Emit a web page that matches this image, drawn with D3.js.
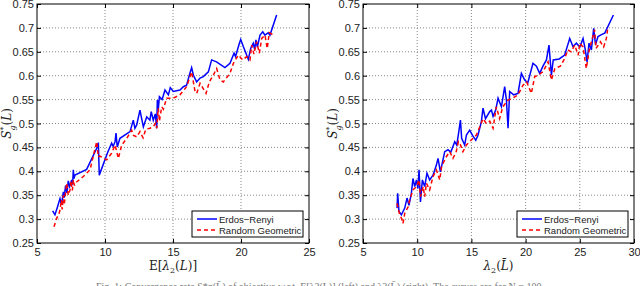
<!DOCTYPE html>
<meta charset="utf-8">
<style>
body { margin: 0; background: #fff; }
.tick text { font-family: "Liberation Sans", Arial, sans-serif; font-size: 11px; fill: #222; }
.grid line { stroke: #888; stroke-dasharray: 1,2; }
.lbl { font-family: "DejaVu Serif", "Liberation Serif", serif; font-size: 12px; fill: #222; }
.leg { font-family: "Liberation Sans", Arial, sans-serif; font-size: 9.5px; fill: #222; }
</style>
<body>
<script src="https://cdn.jsdelivr.net/npm/d3@7"></script>
<script>

// ---- data: [x, S*g] ----
var yTicks = [0.25, 0.3, 0.35, 0.4, 0.45, 0.5, 0.55, 0.6, 0.65, 0.7, 0.75];
var xTicksLeft = [5, 10, 15, 20, 25];
var xTicksRight = [5, 10, 15, 20, 25, 30];
var legendNames = ["Erdos\u2212Renyi", "Random Geometric"];

var erLeft = [[6.15,0.317],[6.32,0.309],[6.5,0.325],[6.69,0.343],[6.8,0.33],[6.94,0.357],[7.0,0.345],[7.1,0.37],[7.2,0.355],[7.3,0.38],[7.4,0.368],[7.55,0.382],[7.62,0.372],[7.67,0.403],[7.72,0.385],[7.79,0.392],[8.65,0.404],[9.39,0.448],[9.51,0.46],[9.58,0.392],[10.2,0.44],[10.49,0.459],[10.6,0.452],[10.74,0.462],[10.81,0.48],[10.9,0.451],[11.1,0.469],[11.84,0.483],[12.08,0.507],[12.2,0.49],[12.33,0.497],[12.57,0.528],[12.82,0.493],[13.07,0.514],[13.3,0.507],[13.4,0.525],[13.55,0.507],[13.7,0.52],[13.8,0.49],[13.85,0.549],[13.92,0.53],[14.0,0.556],[14.2,0.55],[14.41,0.57],[14.66,0.56],[14.8,0.575],[15.02,0.567],[15.51,0.57],[15.76,0.577],[16.0,0.58],[16.2,0.601],[16.37,0.617],[16.5,0.601],[16.74,0.587],[16.99,0.595],[17.23,0.598],[17.6,0.608],[17.84,0.633],[18.2,0.629],[18.82,0.617],[19.19,0.626],[19.39,0.64],[19.49,0.647],[19.6,0.64],[19.88,0.668],[19.98,0.676],[20.17,0.661],[20.54,0.634],[20.71,0.657],[20.9,0.668],[21.0,0.655],[21.1,0.675],[21.2,0.66],[21.4,0.685],[21.6,0.692],[21.76,0.685],[22.0,0.69],[22.13,0.685],[22.62,0.727]];

var rgLeft = [[6.25,0.284],[6.45,0.302],[6.6,0.31],[6.69,0.319],[6.8,0.34],[6.85,0.32],[6.94,0.35],[7.0,0.33],[7.18,0.375],[7.3,0.35],[7.43,0.361],[7.5,0.38],[7.6,0.36],[7.67,0.382],[7.75,0.37],[7.8,0.375],[8.4,0.389],[8.9,0.403],[9.39,0.462],[9.51,0.43],[9.6,0.432],[10.13,0.424],[10.49,0.438],[10.74,0.455],[10.98,0.427],[11.23,0.455],[11.6,0.469],[11.96,0.486],[12.1,0.475],[12.33,0.472],[12.57,0.483],[12.8,0.47],[13.0,0.488],[13.3,0.49],[13.55,0.493],[13.7,0.5],[13.8,0.49],[13.92,0.532],[14.0,0.505],[14.17,0.535],[14.29,0.53],[14.53,0.553],[15.02,0.553],[15.51,0.56],[16.0,0.577],[16.25,0.598],[16.37,0.608],[16.62,0.567],[16.74,0.563],[16.99,0.584],[17.43,0.563],[17.67,0.587],[17.96,0.601],[18.21,0.615],[18.46,0.591],[18.7,0.587],[19.19,0.605],[19.44,0.626],[19.8,0.643],[20.13,0.633],[20.42,0.64],[20.66,0.633],[20.79,0.664],[20.95,0.645],[21.15,0.671],[21.35,0.647],[21.52,0.678],[21.76,0.685],[21.93,0.657],[22.08,0.69],[22.38,0.685]];

var erRight = [[8.14,0.323],[8.2,0.354],[8.32,0.316],[8.54,0.309],[8.85,0.323],[9.06,0.344],[9.24,0.329],[9.46,0.354],[9.61,0.385],[9.77,0.368],[9.93,0.382],[10.07,0.364],[10.17,0.403],[10.3,0.336],[10.48,0.382],[10.69,0.368],[10.9,0.396],[11.15,0.382],[11.46,0.392],[11.77,0.413],[11.92,0.427],[12.14,0.399],[12.54,0.441],[12.84,0.445],[13.1,0.44],[13.46,0.462],[13.65,0.455],[13.86,0.486],[13.99,0.507],[14.1,0.469],[14.38,0.455],[14.54,0.476],[14.84,0.486],[15.1,0.475],[15.4,0.465],[15.6,0.475],[15.92,0.504],[16.07,0.532],[16.3,0.51],[16.69,0.525],[16.85,0.528],[17.0,0.515],[17.24,0.528],[17.46,0.553],[17.77,0.535],[18.07,0.577],[18.23,0.549],[18.38,0.49],[18.53,0.567],[18.9,0.56],[19.3,0.563],[19.61,0.605],[19.92,0.591],[20.2,0.585],[20.68,0.626],[21.0,0.62],[21.3,0.605],[21.6,0.62],[21.92,0.633],[22.16,0.664],[22.38,0.601],[22.55,0.633],[23.1,0.635],[23.6,0.643],[24.07,0.678],[24.37,0.661],[24.69,0.668],[25.0,0.66],[25.3,0.678],[25.5,0.655],[25.67,0.629],[25.85,0.668],[26.07,0.654],[26.28,0.699],[26.45,0.665],[26.68,0.682],[27.0,0.686],[27.3,0.689],[28.1,0.727]];

var rgRight = [[8.14,0.333],[8.39,0.309],[8.54,0.302],[8.69,0.291],[8.85,0.312],[9.15,0.325],[9.31,0.34],[9.61,0.361],[9.93,0.368],[10.17,0.382],[10.3,0.347],[10.55,0.368],[10.69,0.347],[10.85,0.375],[11.15,0.361],[11.46,0.389],[11.77,0.403],[12.08,0.382],[12.25,0.41],[12.54,0.424],[12.7,0.431],[13.0,0.441],[13.3,0.427],[13.6,0.441],[13.8,0.462],[14.0,0.455],[14.22,0.441],[14.54,0.455],[14.84,0.462],[15.15,0.469],[15.46,0.476],[15.77,0.493],[16.07,0.51],[16.38,0.5],[16.69,0.505],[17.0,0.49],[17.3,0.535],[17.6,0.51],[17.9,0.535],[18.38,0.549],[18.8,0.553],[19.3,0.56],[19.76,0.58],[20.1,0.587],[20.53,0.563],[20.84,0.598],[21.15,0.601],[21.6,0.608],[22.07,0.629],[22.38,0.591],[22.7,0.615],[23.2,0.62],[23.6,0.636],[23.9,0.654],[24.2,0.65],[24.53,0.664],[24.85,0.643],[25.0,0.668],[25.3,0.66],[25.6,0.615],[25.9,0.657],[26.37,0.696],[26.5,0.657],[26.9,0.671],[27.2,0.66],[27.45,0.678],[27.6,0.703]];

var svg = d3.select("body").append("svg")
    .attr("width", 640)
    .attr("height", 286);

function panel(left, right, xTicks, er, rg, xlabel) {
  var top = 4, bottom = 243;
  var x = d3.scaleLinear().domain([xTicks[0], xTicks[xTicks.length - 1]]).range([left, right]);
  var y = d3.scaleLinear().domain([0.25, 0.75]).range([bottom, top]);
  var g = svg.append("g");

  g.append("rect")
      .attr("x", left).attr("y", top)
      .attr("width", right - left).attr("height", bottom - top)
      .attr("fill", "#fff");

  // dotted grid
  var grid = g.append("g").attr("class", "grid");
  grid.selectAll(".gx").data(xTicks.slice(1, -1)).enter().append("line")
      .attr("x1", x).attr("x2", x).attr("y1", top).attr("y2", bottom);
  grid.selectAll(".gy").data(yTicks.slice(1, -1)).enter().append("line")
      .attr("x1", left).attr("x2", right).attr("y1", y).attr("y2", y);

  var line = d3.line().x(function(d) { return x(d[0]); }).y(function(d) { return y(d[1]); });

  g.append("path").datum(er)
      .attr("d", line).attr("fill", "none")
      .attr("stroke", "#0000ff").attr("stroke-width", 1.5);
  g.append("path").datum(rg)
      .attr("d", line).attr("fill", "none")
      .attr("stroke", "#ff0000").attr("stroke-width", 1.5)
      .attr("stroke-dasharray", "4,3");

  // axes, ticks pointing inward
  g.append("g")
      .attr("transform", "translate(0," + bottom + ")")
      .call(d3.axisBottom(x).tickValues(xTicks).tickSize(-4).tickPadding(5).tickFormat(d3.format("d")))
      .call(function(a) { a.select(".domain").remove(); });
  g.append("g")
      .attr("transform", "translate(0," + top + ")")
      .call(d3.axisTop(x).tickValues(xTicks).tickSize(-4).tickFormat(""))
      .call(function(a) { a.select(".domain").remove(); });
  g.append("g")
      .attr("transform", "translate(" + left + ",0)")
      .call(d3.axisLeft(y).tickValues(yTicks).tickSize(-4).tickPadding(3).tickFormat(function(d) { return d3.format("")(+d.toFixed(2)); }))
      .call(function(a) { a.select(".domain").remove(); });
  g.append("g")
      .attr("transform", "translate(" + right + ",0)")
      .call(d3.axisRight(y).tickValues(yTicks).tickSize(-4).tickFormat(""))
      .call(function(a) { a.select(".domain").remove(); });
  g.selectAll(".tick line").attr("stroke", "#000");

  g.append("rect")
      .attr("x", left).attr("y", top)
      .attr("width", right - left).attr("height", bottom - top)
      .attr("fill", "none").attr("stroke", "#000").attr("stroke-width", 1);

  // axis labels
  g.append("text").attr("class", "lbl")
      .attr("x", (left + right) / 2).attr("y", 270)
      .attr("text-anchor", "middle")
      .html(xlabel);
  var yl = g.append("text").attr("class", "lbl")
      .attr("transform", "translate(" + (left - 26) + "," + ((top + bottom) / 2) + ") rotate(-90)")
      .attr("text-anchor", "middle");
  yl.append("tspan").attr("font-style", "italic").text("S");
  yl.append("tspan").attr("font-size", "8px").attr("dy", -5).text("*");
  yl.append("tspan").attr("font-size", "8px").attr("font-style", "italic").attr("dx", -4).attr("dy", 9).text("g");
  yl.append("tspan").attr("dy", -4).text("(");
  yl.append("tspan").attr("font-style", "italic").text("L");
  yl.append("tspan").text(")");

  // legend
  var lx = right - 117, ly = 211;
  var leg = g.append("g");
  leg.append("rect")
      .attr("x", lx).attr("y", ly).attr("width", 111).attr("height", 26)
      .attr("fill", "#fff").attr("stroke", "#000");
  [["#0000ff", null], ["#ff0000", "4,3"]].forEach(function(s, i) {
    var yy = ly + 8 + i * 11;
    leg.append("line")
        .attr("x1", lx + 5).attr("x2", lx + 25).attr("y1", yy).attr("y2", yy)
        .attr("stroke", s[0]).attr("stroke-width", 1.5)
        .attr("stroke-dasharray", s[1]);
    leg.append("text").attr("class", "leg")
        .attr("x", lx + 27).attr("y", yy + 3.5)
        .text(legendNames[i]);
  });
}

panel(37, 309, xTicksLeft, erLeft, rgLeft,
  "E[<tspan font-style='italic'>\u03bb</tspan><tspan font-size='8px' dy='3'>2</tspan><tspan dy='-3'>(</tspan><tspan font-style='italic'>L</tspan>)]");
panel(363, 634, xTicksRight, erRight, rgRight,
  "<tspan font-style='italic'>\u03bb</tspan><tspan font-size='8px' dy='3'>2</tspan><tspan dy='-3'>(</tspan><tspan font-style='italic'>L\u0304</tspan>)");

// caption, cut off at the bottom edge of the page
svg.append("text")
    .attr("x", 320).attr("y", 290)
    .attr("text-anchor", "middle")
    .attr("font-family", "Liberation Serif, serif")
    .attr("font-size", "10px")
    .attr("fill", "#777")
    .text("Fig. 1: Convergence rate S*g(L\u0304) of objective w.r.t. E[\u03bb2(L)] (left) and \u03bb2(L\u0304) (right). The curves are for N = 100.");

</script>
</body>
